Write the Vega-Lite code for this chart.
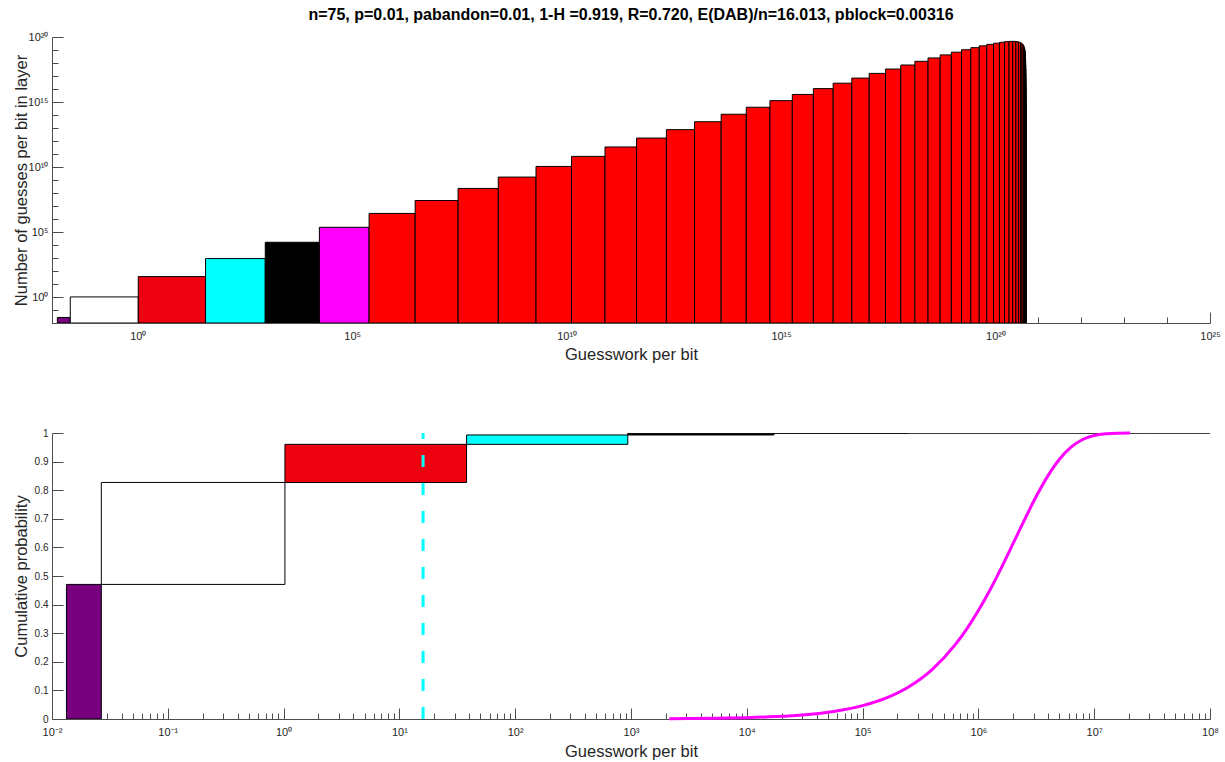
{
  "$schema": "https://vega.github.io/schema/vega-lite/v6.json",
  "background": "white",
  "padding": {"left": 12, "top": 7, "right": 0, "bottom": 0},
  "spacing": 64,
  "config": {
    "view": {"stroke": null},
    "font": "Liberation Sans",
    "axis": {
      "labelFont": "Liberation Sans",
      "titleFont": "Liberation Sans",
      "labelFontSize": 10,
      "titleFontSize": 16.5,
      "titleFontWeight": "normal",
      "labelColor": "#262626",
      "titleColor": "#262626",
      "domainColor": "#4d4d4d",
      "tickColor": "#4d4d4d",
      "grid": false,
      "labelOverlap": false,
      "labelFlush": false,
      "zindex": 1
    }
  },
  "vconcat": [
    {
      "title": {
        "text": "n=75, p=0.01, pabandon=0.01, 1-H =0.919, R=0.720, E(DAB)/n=16.013, pblock=0.00316",
        "font": "Liberation Sans",
        "fontSize": 16,
        "fontWeight": "bold",
        "color": "#000000",
        "anchor": "middle",
        "offset": 8
      },
      "width": 1158,
      "height": 286,
      "data": {
        "values": [
          {"k": 0, "layer": "0", "start": 0.013333, "end": 0.026667, "guesses": 0.026667},
          {"k": 1, "layer": "1", "start": 0.026667, "end": 1.02667, "guesses": 1.01333},
          {"k": 2, "layer": "2", "start": 1.02667, "end": 38.027, "guesses": 37.013},
          {"k": 3, "layer": "3", "start": 38.027, "end": 938.36, "guesses": 900.35},
          {"k": 4, "layer": "4", "start": 938.36, "end": 17144.4, "guesses": 16206},
          {"k": 5, "layer": "5", "start": 17144.4, "end": 247270, "guesses": 230125},
          {"k": 6, "layer": "6+", "start": 247270, "end": 2932064, "guesses": 2684794},
          {"k": 7, "layer": "6+", "start": 2932064, "end": 2.93965e7, "guesses": 2.64644e7},
          {"k": 8, "layer": "6+", "start": 2.93965e7, "end": 2.54344e8, "guesses": 2.24947e8},
          {"k": 9, "layer": "6+", "start": 2.54344e8, "end": 1.92895e9, "guesses": 1.67461e9},
          {"k": 10, "layer": "6+", "start": 1.92895e9, "end": 1.29814e10, "guesses": 1.10524e10},
          {"k": 11, "layer": "6+", "start": 1.29814e10, "end": 7.82911e10, "guesses": 6.53097e10},
          {"k": 12, "layer": "6+", "start": 7.82911e10, "end": 4.26609e11, "guesses": 3.48319e11},
          {"k": 13, "layer": "6+", "start": 4.26609e11, "end": 2.11461e12, "guesses": 1.688e12},
          {"k": 14, "layer": "6+", "start": 2.11461e12, "end": 9.59004e12, "guesses": 7.47543e12},
          {"k": 15, "layer": "6+", "start": 9.59004e12, "end": 3.99901e13, "guesses": 3.04001e13},
          {"k": 16, "layer": "6+", "start": 3.99901e13, "end": 1.53991e14, "guesses": 1.14001e14},
          {"k": 17, "layer": "6+", "start": 1.53991e14, "end": 5.4964e14, "guesses": 3.95649e14},
          {"k": 18, "layer": "6+", "start": 5.4964e14, "end": 1.82451e15, "guesses": 1.27487e15},
          {"k": 19, "layer": "6+", "start": 1.82451e15, "end": 5.64912e15, "guesses": 3.82461e15},
          {"k": 20, "layer": "6+", "start": 5.64912e15, "end": 1.6358e16, "guesses": 1.07089e16},
          {"k": 21, "layer": "6+", "start": 1.6358e16, "end": 4.44052e16, "guesses": 2.80472e16},
          {"k": 22, "layer": "6+", "start": 4.44052e16, "end": 1.13248e17, "guesses": 6.88431e16},
          {"k": 23, "layer": "6+", "start": 1.13248e17, "end": 2.71887e17, "guesses": 1.58639e17},
          {"k": 24, "layer": "6+", "start": 2.71887e17, "end": 6.15604e17, "guesses": 3.43717e17},
          {"k": 25, "layer": "6+", "start": 6.15604e17, "end": 1.31679e18, "guesses": 7.01184e17},
          {"k": 26, "layer": "6+", "start": 1.31679e18, "end": 2.66521e18, "guesses": 1.34843e18},
          {"k": 27, "layer": "6+", "start": 2.66521e18, "end": 5.11236e18, "guesses": 2.44715e18},
          {"k": 28, "layer": "6+", "start": 5.11236e18, "end": 9.30747e18, "guesses": 4.19511e18},
          {"k": 29, "layer": "6+", "start": 9.30747e18, "end": 1.61064e19, "guesses": 6.79896e18},
          {"k": 30, "layer": "6+", "start": 1.61064e19, "end": 2.65315e19, "guesses": 1.04251e19},
          {"k": 31, "layer": "6+", "start": 2.65315e19, "end": 4.16647e19, "guesses": 1.51332e19},
          {"k": 32, "layer": "6+", "start": 4.16647e19, "end": 6.24728e19, "guesses": 2.08081e19},
          {"k": 33, "layer": "6+", "start": 6.24728e19, "end": 8.95864e19, "guesses": 2.71136e19},
          {"k": 34, "layer": "6+", "start": 8.95864e19, "end": 1.2308e20, "guesses": 3.34933e19},
          {"k": 35, "layer": "6+", "start": 1.2308e20, "end": 1.62315e20, "guesses": 3.92351e19},
          {"k": 36, "layer": "6+", "start": 1.62315e20, "end": 2.05909e20, "guesses": 4.35945e19},
          {"k": 37, "layer": "6+", "start": 2.05909e20, "end": 2.5186e20, "guesses": 4.59511e19},
          {"k": 38, "layer": "6+", "start": 2.5186e20, "end": 2.97811e20, "guesses": 4.59511e19},
          {"k": 39, "layer": "6+", "start": 2.97811e20, "end": 3.41405e20, "guesses": 4.35945e19},
          {"k": 40, "layer": "6+", "start": 3.41405e20, "end": 3.8064e20, "guesses": 3.92351e19},
          {"k": 41, "layer": "6+", "start": 3.8064e20, "end": 4.14133e20, "guesses": 3.34933e19},
          {"k": 42, "layer": "6+", "start": 4.14133e20, "end": 4.41247e20, "guesses": 2.71136e19},
          {"k": 43, "layer": "6+", "start": 4.41247e20, "end": 4.62055e20, "guesses": 2.08081e19},
          {"k": 44, "layer": "6+", "start": 4.62055e20, "end": 4.77188e20, "guesses": 1.51332e19},
          {"k": 45, "layer": "6+", "start": 4.77188e20, "end": 4.87613e20, "guesses": 1.04251e19},
          {"k": 46, "layer": "6+", "start": 4.87613e20, "end": 4.94412e20, "guesses": 6.79896e18},
          {"k": 47, "layer": "6+", "start": 4.94412e20, "end": 4.98607e20, "guesses": 4.19511e18},
          {"k": 48, "layer": "6+", "start": 4.98607e20, "end": 5.01053e20, "guesses": 2.44715e18},
          {"k": 49, "layer": "6+", "start": 5.01053e20, "end": 5.02403e20, "guesses": 1.34843e18},
          {"k": 50, "layer": "6+", "start": 5.02403e20, "end": 5.03104e20, "guesses": 7.01184e17},
          {"k": 51, "layer": "6+", "start": 5.03104e20, "end": 5.03448e20, "guesses": 3.43717e17},
          {"k": 52, "layer": "6+", "start": 5.03448e20, "end": 5.03607e20, "guesses": 1.58639e17},
          {"k": 53, "layer": "6+", "start": 5.03607e20, "end": 5.03676e20, "guesses": 6.88431e16},
          {"k": 54, "layer": "6+", "start": 5.03676e20, "end": 5.03704e20, "guesses": 2.80472e16},
          {"k": 55, "layer": "6+", "start": 5.03704e20, "end": 5.03715e20, "guesses": 1.07089e16},
          {"k": 56, "layer": "6+", "start": 5.03715e20, "end": 5.03719e20, "guesses": 3.82461e15},
          {"k": 57, "layer": "6+", "start": 5.03719e20, "end": 5.0372e20, "guesses": 1.27487e15}
        ]
      },
      "mark": {"type": "rect", "stroke": "#000000", "strokeWidth": 1, "clip": true},
      "encoding": {
        "x": {
          "field": "start",
          "type": "quantitative",
          "scale": {"type": "log", "domain": [0.01, 1e25], "nice": false},
          "axis": {
            "title": "Guesswork per bit",
            "values": [0.01, 0.1, 1, 10, 100, 1000, 1e4, 1e5, 1e6, 1e7, 1e8, 1e9, 1e10, 1e11, 1e12, 1e13, 1e14, 1e15, 1e16, 1e17, 1e18, 1e19, 1e20, 1e21, 1e22, 1e23, 1e24, 1e25],
            "tickSize": {"condition": {"test": "round(log(datum.value)/LN10) % 5 === 0", "value": -11}, "value": -6},
            "labelFontSize": 11,
            "labelPadding": 18,
            "titlePadding": 0,
            "labelExpr": "round(log(datum.value)/LN10) % 5 === 0 && round(log(datum.value)/LN10) >= 0 ? '10' + ['⁰','⁵','¹⁰','¹⁵','²⁰','²⁵'][round(log(datum.value)/LN10)/5] : ''"
          }
        },
        "x2": {"field": "end"},
        "y": {
          "field": "guesses",
          "type": "quantitative",
          "scale": {"type": "log", "domain": [0.01, 1e20], "nice": false},
          "axis": {
            "title": "Number of guesses per bit in layer",
            "values": [0.01, 0.1, 1, 10, 100, 1000, 1e4, 1e5, 1e6, 1e7, 1e8, 1e9, 1e10, 1e11, 1e12, 1e13, 1e14, 1e15, 1e16, 1e17, 1e18, 1e19, 1e20],
            "tickSize": {"condition": {"test": "round(log(datum.value)/LN10) % 5 === 0", "value": -11}, "value": -6},
            "labelFontSize": 11,
            "labelPadding": 15,
            "minExtent": 22,
            "maxExtent": 22,
            "titlePadding": 1,
            "labelExpr": "round(log(datum.value)/LN10) % 5 === 0 && round(log(datum.value)/LN10) >= 0 ? '10' + ['⁰','⁵','¹⁰','¹⁵','²⁰'][round(log(datum.value)/LN10)/5] : ''"
          }
        },
        "y2": {"datum": 0.01},
        "fill": {
          "field": "layer",
          "type": "nominal",
          "scale": {"domain": ["0", "1", "2", "3", "4", "5", "6+"], "range": ["#78007f", "#ffffff", "#ee0010", "#00ffff", "#000000", "#ff00ff", "#ff0000"]},
          "legend": null
        }
      }
    },
    {
      "width": 1158,
      "height": 286,
      "layer": [
        {
          "data": {
            "values": [
              {"k": 0, "layer": "0", "start": 0.013333, "end": 0.026667, "cumLow": 0, "cumHigh": 0.47056},
              {"k": 1, "layer": "1", "start": 0.026667, "end": 1.02667, "cumLow": 0.47056, "cumHigh": 0.82708},
              {"k": 2, "layer": "2", "start": 1.02667, "end": 38.027, "cumLow": 0.82708, "cumHigh": 0.96032},
              {"k": 3, "layer": "3", "start": 38.027, "end": 938.36, "cumLow": 0.96032, "cumHigh": 0.99307},
              {"k": 4, "layer": "4", "start": 938.36, "end": 17144.4, "cumLow": 0.99307, "cumHigh": 0.99902},
              {"k": 5, "layer": "5", "start": 17144.4, "end": 247270, "cumLow": 0.99902, "cumHigh": 0.99988},
              {"k": 6, "layer": "6+", "start": 247270, "end": 2932064, "cumLow": 0.99988, "cumHigh": 0.99998},
              {"k": 7, "layer": "6+", "start": 2932064, "end": 2.93965e7, "cumLow": 0.99998, "cumHigh": 0.99999},
              {"k": 8, "layer": "6+", "start": 2.93965e7, "end": 2.54344e8, "cumLow": 0.99999, "cumHigh": 1.0}
            ]
          },
          "mark": {"type": "rect", "stroke": "#000000", "strokeWidth": 1, "clip": true},
          "encoding": {
            "x": {
              "field": "start",
              "type": "quantitative",
              "scale": {"type": "log", "domain": [0.01, 1e8], "nice": false},
              "axis": {
                "title": "Guesswork per bit",
                "values": [0.01, 0.02, 0.03, 0.04, 0.05, 0.06, 0.07, 0.08, 0.09, 0.1, 0.2, 0.3, 0.4, 0.5, 0.6, 0.7, 0.8, 0.9, 1, 2, 3, 4, 5, 6, 7, 8, 9, 10, 20, 30, 40, 50, 60, 70, 80, 90, 100, 200, 300, 400, 500, 600, 700, 800, 900, 1000, 2000, 3000, 4000, 5000, 6000, 7000, 8000, 9000, 10000, 20000, 30000, 40000, 50000, 60000, 70000, 80000, 90000, 100000, 200000, 300000, 400000, 500000, 600000, 700000, 800000, 900000, 1000000, 2000000, 3000000, 4000000, 5000000, 6000000, 7000000, 8000000, 9000000, 10000000, 20000000, 30000000, 40000000, 50000000, 60000000, 70000000, 80000000, 90000000, 100000000],
                "tickSize": {"condition": {"test": "abs(log(datum.value)/LN10 - round(log(datum.value)/LN10)) < 1e-6", "value": -11}, "value": -6},
                "labelFontSize": 11,
                "labelPadding": 18,
                "titlePadding": 1,
                "labelExpr": "abs(log(datum.value)/LN10 - round(log(datum.value)/LN10)) < 1e-6 ? '10' + ['⁻²','⁻¹','⁰','¹','²','³','⁴','⁵','⁶','⁷','⁸'][round(log(datum.value)/LN10) + 2] : ''"
              }
            },
            "x2": {"field": "end"},
            "y": {
              "field": "cumLow",
              "type": "quantitative",
              "scale": {"domain": [0, 1], "nice": false},
              "axis": {
                "title": "Cumulative probability",
                "values": [0, 0.1, 0.2, 0.3, 0.4, 0.5, 0.6, 0.7, 0.8, 0.9, 1],
                "format": ".1~f",
                "tickSize": -11,
                "labelPadding": 15,
                "minExtent": 22,
                "maxExtent": 22,
                "titlePadding": 1
              }
            },
            "y2": {"field": "cumHigh"},
            "fill": {
              "field": "layer",
              "type": "nominal",
              "scale": {"domain": ["0", "1", "2", "3", "4", "5", "6+"], "range": ["#78007f", "#ffffff", "#ee0010", "#00ffff", "#000000", "#ff00ff", "#ff0000"]},
              "legend": null
            }
          }
        },
        {
          "data": {"values": [{"mean": 16.013}]},
          "mark": {"type": "rule", "color": "#00ffff", "strokeWidth": 3, "strokeDash": [12, 16]},
          "encoding": {
            "x": {"field": "mean", "type": "quantitative"},
            "y": {
              "datum": 0,
              "type": "quantitative",
              "axis": {
                "title": "Cumulative probability",
                "values": [0, 0.1, 0.2, 0.3, 0.4, 0.5, 0.6, 0.7, 0.8, 0.9, 1],
                "format": ".1~f",
                "tickSize": -11,
                "labelPadding": 15,
                "minExtent": 22,
                "maxExtent": 22,
                "titlePadding": 1
              }
            },
            "y2": {"datum": 1}
          }
        },
        {
          "data": {
            "values": [
              {"g": 2138, "prob": 0.00102},
              {"g": 3162, "prob": 0.00151},
              {"g": 5623, "prob": 0.00268},
              {"g": 10000, "prob": 0.00476},
              {"g": 17783, "prob": 0.00844},
              {"g": 31623, "prob": 0.01497},
              {"g": 56234, "prob": 0.02646},
              {"g": 100000, "prob": 0.0466},
              {"g": 158489, "prob": 0.0728},
              {"g": 251189, "prob": 0.1129},
              {"g": 398107, "prob": 0.1729},
              {"g": 630957, "prob": 0.2598},
              {"g": 794328, "prob": 0.3153},
              {"g": 1000000, "prob": 0.3793},
              {"g": 1258925, "prob": 0.4513},
              {"g": 1584893, "prob": 0.5304},
              {"g": 1995262, "prob": 0.6138},
              {"g": 2511886, "prob": 0.6981},
              {"g": 3162278, "prob": 0.7786},
              {"g": 3981072, "prob": 0.8502},
              {"g": 5011872, "prob": 0.9084},
              {"g": 6309573, "prob": 0.9506},
              {"g": 7943282, "prob": 0.9774},
              {"g": 10000000, "prob": 0.9915},
              {"g": 12589254, "prob": 0.99753},
              {"g": 15848932, "prob": 0.99948},
              {"g": 20417379, "prob": 0.99994}
            ]
          },
          "mark": {"type": "line", "color": "#ff00ff", "strokeWidth": 3, "interpolate": "monotone"},
          "encoding": {
            "x": {"field": "g", "type": "quantitative"},
            "y": {
              "field": "prob",
              "type": "quantitative",
              "axis": {
                "title": "Cumulative probability",
                "values": [0, 0.1, 0.2, 0.3, 0.4, 0.5, 0.6, 0.7, 0.8, 0.9, 1],
                "format": ".1~f",
                "tickSize": -11,
                "labelPadding": 15,
                "minExtent": 22,
                "maxExtent": 22,
                "titlePadding": 1
              }
            }
          }
        }
      ]
    }
  ]
}
